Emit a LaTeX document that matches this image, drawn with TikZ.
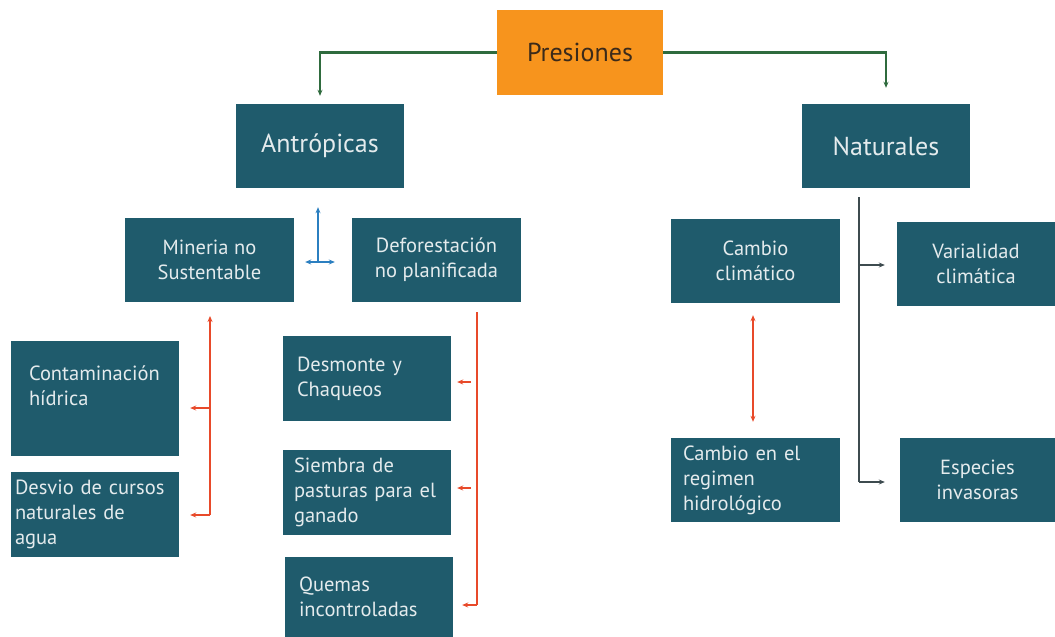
\documentclass[tikz,border=0pt]{standalone}
\usepackage{fontspec}
\setmainfont{PT Sans}
\usetikzlibrary{arrows.meta}
\definecolor{teal}{HTML}{1F5B6C}
\definecolor{orng}{HTML}{F7941D}
\definecolor{redc}{HTML}{E84A2A}
\definecolor{grn}{HTML}{2F6B3E}
\definecolor{blu}{HTML}{2B7FC0}
\definecolor{gry}{HTML}{3D4B4F}
\definecolor{ptxt}{HTML}{3B2A1A}
\tikzset{
  box/.style={fill=teal, draw=none, text=white!88!teal, font=\fontsize{20.5}{25}\selectfont, inner sep=0pt},
  bigbox/.style={box, font=\fontsize{26}{30}\selectfont},
  tip/.style={-{Stealth[length=6pt,width=5pt]}},
  tips/.style={{Stealth[length=6pt,width=5pt]}-{Stealth[length=6pt,width=5pt]}},
  rl/.style={draw=redc, line width=2.2pt},
  ln/.style={line width=2.2pt},
}
\begin{document}
\begin{tikzpicture}[x=1pt,y=-1pt]
\useasboundingbox (0,0) rectangle (1055,637);
% boxes
\node[bigbox, fill=orng, text=ptxt, minimum width=166pt, minimum height=85pt] (pres) at (580,52.5) {Presiones};
\node[bigbox, minimum width=168pt, minimum height=84pt] (antro) at (320,146) {Antrópicas};
\node[bigbox, minimum width=168pt, minimum height=84pt] (nat) at (886,146) {Naturales};
\node[box, minimum width=169pt, minimum height=84pt, align=center] (min) at (209.5,260) {Mineria no\\Sustentable};
\node[box, minimum width=169pt, minimum height=84pt, align=center] (def) at (436.5,260) {Deforestación\\no planificada};
\node[box, minimum width=168pt, minimum height=115pt, text width=148pt, inner xsep=10pt, align=left] (cont) at (95,398.5) {\hspace*{8pt}Contaminación\\\hspace*{8pt}hídrica\\[-7pt]\strut};
\node[box, minimum width=168pt, minimum height=85pt, text width=160pt, inner xsep=4pt, align=left] (desv) at (95,514.5) {Desvio de cursos\\naturales de\\agua};
\node[box, minimum width=168pt, minimum height=85pt, text width=140pt, inner xsep=14pt, align=left] (desm) at (367,378.5) {Desmonte y\\Chaqueos};
\node[box, minimum width=168pt, minimum height=85pt, text width=152pt, inner xsep=8pt, align=left] (siem) at (367,492.5) {\hspace*{3pt}Siembra de\\\hspace*{3pt}pasturas para el\\\hspace*{3pt}ganado};
\node[box, minimum width=168pt, minimum height=80pt, text width=140pt, inner xsep=14pt, align=left] (quem) at (369,597) {Quemas\\incontroladas};
\node[box, minimum width=169pt, minimum height=84pt, align=center] (cc) at (755.5,261) {Cambio\\climático};
\node[box, minimum width=158pt, minimum height=84pt, align=center] (var) at (976,264) {Varialidad\\climática};
\node[box, minimum width=169pt, minimum height=84pt, text width=145pt, inner xsep=12pt, align=left] (creg) at (755.5,480) {Cambio en el\\regimen\\hidrológico};
\node[box, minimum width=155pt, minimum height=84pt, align=center] (esp) at (977.5,480) {Especies\\invasoras};
% green connectors
\draw[draw=grn, ln, tip, shorten >=8pt] (pres.west) -| (antro.north);
\draw[draw=grn, ln, tip, shorten >=16pt] (pres.east) -| (nat.north);
% blue connectors
\coordinate (bj) at (318,262);
\draw[draw=blu, ln, tip, shorten >=19pt] (bj) -- (bj |- antro.south);
\draw[draw=blu, ln, tips, shorten <=11pt, shorten >=17pt] (min.east |- bj) -- (def.west |- bj);
% red left
\coordinate (rl0) at (210,316);
\coordinate (rl1) at (210,408);
\coordinate (rl2) at (210,515);
\draw[rl, tip] (rl2) -- (rl0);
\draw[rl, tip, shorten >=11pt] (rl2) -- (rl2 -| desv.east);
\draw[rl, tip, shorten >=11pt] (rl1) -- (rl1 -| cont.east);
% red right
\coordinate (rr0) at (477,312);
\coordinate (rr1) at (471,382);
\coordinate (rr2) at (471,488);
\coordinate (rr3) at (477,605);
\draw[rl] (rr0) -- (rr3);
\draw[rl, tip, shorten >=9pt] (rr3) -- (rr3 -| quem.east);
\draw[rl, tip, shorten >=6pt] (rr1) -- (rr1 -| desm.east);
\draw[rl, tip, shorten >=6pt] (rr2) -- (rr2 -| siem.east);
% red natural
\draw[rl, tips, shorten <=12pt, shorten >=16pt] (cc.south -| 753,0) -- (creg.north -| 753,0);
% gray
\coordinate (gv0) at (859,197);
\coordinate (gv1) at (859,265);
\coordinate (gv2) at (859,482);
\draw[draw=gry, ln] (gv0) -- (gv2);
\draw[draw=gry, ln, tip, shorten >=12pt] (gv1) -- (gv1 -| var.west);
\draw[draw=gry, ln, tip, shorten >=15pt] (gv2) -- (gv2 -| esp.west);
\end{tikzpicture}
\end{document}
